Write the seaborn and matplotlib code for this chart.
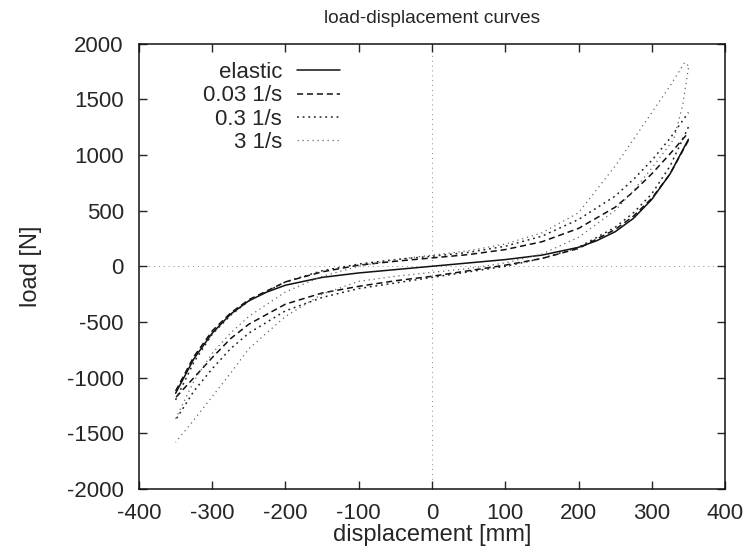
import pandas as pd
import matplotlib
matplotlib.use("Agg")
import matplotlib.pyplot as plt
import seaborn as sns

# --- DATA ---
# elastic curve
x_el = [-350, -325, -300, -275, -250, -225, -200, -150, -100, -50, 0, 50, 100, 150, 200, 225, 250, 275, 300, 325, 350]
y_el = [-1140, -830, -600, -430, -310, -230, -170, -100, -60, -30, 0, 30, 60, 100, 170, 230, 310, 430, 600, 830, 1140]

# 0.03 1/s loop: upper branch (x increasing) and lower branch (x decreasing)
x_up_003 = [-350, -325, -300, -275, -250, -200, -150, -100, -50, 0, 50, 100, 150, 200, 250, 275, 300, 325, 350]
y_up_003 = [-1120, -810, -580, -420, -300, -140, -50, 10, 45, 75, 105, 150, 220, 340, 530, 670, 830, 1010, 1200]
x_lo_003 = [350, 325, 300, 275, 250, 200, 150, 100, 50, 0, -50, -100, -150, -200, -250, -275, -300, -325, -350]
y_lo_003 = [1130, 830, 610, 450, 330, 160, 70, 10, -40, -90, -130, -180, -240, -340, -520, -650, -820, -1000, -1180]

# 0.3 1/s loop
x_up_03 = [-350, -325, -300, -275, -250, -200, -150, -100, -50, 0, 50, 100, 150, 200, 250, 275, 300, 325, 350]
y_up_03 = [-1200, -860, -610, -440, -310, -140, -40, 20, 60, 90, 125, 180, 270, 420, 630, 780, 950, 1150, 1380]
x_lo_03 = [350, 325, 300, 275, 250, 200, 150, 100, 50, 0, -50, -100, -150, -200, -250, -275, -300, -325, -350]
y_lo_03 = [1250, 900, 650, 480, 350, 170, 70, 0, -50, -100, -150, -200, -280, -400, -600, -740, -920, -1120, -1380]

# 3 1/s loop
x_up_3 = [-350, -325, -300, -275, -250, -200, -150, -100, -50, 0, 50, 100, 150, 200, 250, 275, 300, 325, 345, 350]
y_up_3 = [-1370, -1030, -780, -600, -450, -230, -90, 0, 60, 100, 140, 200, 300, 480, 900, 1140, 1380, 1620, 1830, 1800]
x_lo_3 = [350, 342, 330, 300, 275, 250, 200, 150, 100, 50, 0, -50, -100, -150, -200, -250, -275, -300, -325, -350]
y_lo_3 = [1780, 1440, 1140, 880, 680, 500, 260, 110, 30, -20, -55, -90, -135, -250, -450, -740, -960, -1170, -1380, -1580]

x_ticks = list(range(-400, 401, 100))
y_ticks = list(range(-2000, 2001, 500))

sns.set_style("ticks")
plt.rcParams['font.family'] = ['Liberation Sans', 'DejaVu Sans']
plt.rcParams['axes.unicode_minus'] = False

fig = plt.figure(figsize=(7.44, 5.51), dpi=100)
ax = fig.add_axes([0.1868, 0.1125, 0.7877, 0.8085])

ax.axhline(0, color='#888888', linestyle=(0, (1, 4)), linewidth=0.7, zorder=0)
ax.axvline(0, color='#888888', linestyle=(0, (1, 4)), linewidth=0.7, zorder=0)

styles = [
    ('elastic', [(x_el, y_el)], '-', 1.1, '#111111'),
    ('0.03 1/s', [(x_up_003, y_up_003), (x_lo_003, y_lo_003)], (0, (4, 2.5)), 1.1, '#111111'),
    ('0.3 1/s', [(x_up_03, y_up_03), (x_lo_03, y_lo_03)], (0, (1.2, 2.5)), 1.1, '#222222'),
    ('3 1/s', [(x_up_3, y_up_3), (x_lo_3, y_lo_3)], (0, (1, 3)), 0.9, '#666666'),
]

for label, branches, ls, lw, col in styles:
    for i, (xs, ys) in enumerate(branches):
        df = pd.DataFrame({'x': xs, 'y': ys})
        sns.lineplot(data=df, x='x', y='y', ax=ax, sort=False, estimator=None,
                     color=col, linestyle=ls, linewidth=lw,
                     label=label if i == 0 else None)

ax.set_xlim(-400, 400)
ax.set_ylim(-2000, 2000)
ax.set_xticks(x_ticks)
ax.set_yticks(y_ticks)
ax.tick_params(direction='in', length=6, width=1, top=True, right=True,
               labelsize=16)
ax.tick_params(axis='x', pad=10)
ax.tick_params(axis='y', pad=11)
for s in ax.spines.values():
    s.set_linewidth(1.1)
    s.set_color('#111111')

ax.set_xlabel('displacement [mm]', fontsize=17, labelpad=0)
ax.set_ylabel('load [N]', fontsize=17, labelpad=18)
ax.set_title('load-displacement curves', fontsize=13.8, pad=15)

leg = ax.legend(loc='upper right', bbox_to_anchor=(0.343, 0.958), frameon=False,
                markerfirst=False, fontsize=16, handlelength=1.95,
                handletextpad=0.65, labelspacing=0.1, borderaxespad=0,
                borderpad=0)

fig.savefig('out.png', dpi=100)
